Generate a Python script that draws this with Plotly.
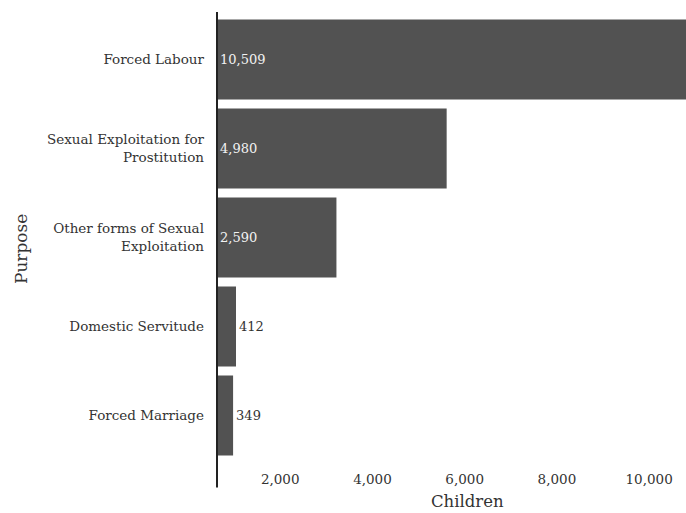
import plotly.graph_objects as go

# Child trafficking victims by purpose of exploitation
purposes = [
    "Forced Labour",
    "Sexual Exploitation for<br>Prostitution",
    "Other forms of Sexual<br>Exploitation",
    "Domestic Servitude",
    "Forced Marriage",
]
children = [10509, 4980, 2590, 412, 349]
tick_values = [2000, 4000, 6000, 8000, 10000]
tick_labels = ["2,000", "4,000", "6,000", "8,000", "10,000"]

FONT = "DejaVu Serif"
BAR = "#525252"
INK = "#333333"
SIZE = 13.5

fig = go.Figure(
    go.Bar(
        x=children,
        y=purposes,
        orientation="h",
        marker=dict(color=BAR, line=dict(width=0)),
        text=[f"{v:,}" for v in children],
        textposition="auto",
        insidetextanchor="start",
        insidetextfont=dict(family=FONT, size=13, color="#f2f2f2"),
        outsidetextfont=dict(family=FONT, size=13, color=INK),
        cliponaxis=True,
        hoverinfo="skip",
    )
)

fig.update_layout(
    width=686,
    height=513,
    margin=dict(l=217, r=0, t=15, b=53),
    paper_bgcolor="white",
    plot_bgcolor="white",
    bargap=0.1,
    showlegend=False,
    font=dict(family=FONT, size=SIZE, color=INK),
    xaxis=dict(
        range=[0, 10170],
        tickvals=tick_values,
        ticktext=tick_labels,
        showgrid=False,
        zeroline=False,
        showline=False,
        ticks="",
        ticklabelshift=-29,
        ticklabelstandoff=9,
        tickfont=dict(family=FONT, size=SIZE, color=INK),
    ),
    yaxis=dict(
        autorange="reversed",
        showgrid=False,
        zeroline=False,
        showline=False,
        ticks="",
        ticklabelstandoff=12,
        tickfont=dict(family=FONT, size=SIZE, color=INK),
    ),
    shapes=[
        dict(
            type="line", xref="paper", yref="paper",
            x0=0, x1=0, y0=-0.062, y1=1.007,
            line=dict(color="#222222", width=2),
        )
    ],
    annotations=[
        dict(
            text="Children", xref="paper", yref="paper",
            x=0.535, y=-0.093, xanchor="center", yanchor="middle",
            showarrow=False, font=dict(family=FONT, size=16.5, color=INK),
        ),
        dict(
            text="Purpose", xref="paper", yref="paper",
            x=-0.418, y=0.474, xanchor="center", yanchor="middle",
            textangle=-90, showarrow=False,
            font=dict(family=FONT, size=17, color=INK),
        ),
    ],
)

fig.write_html("out.html")
